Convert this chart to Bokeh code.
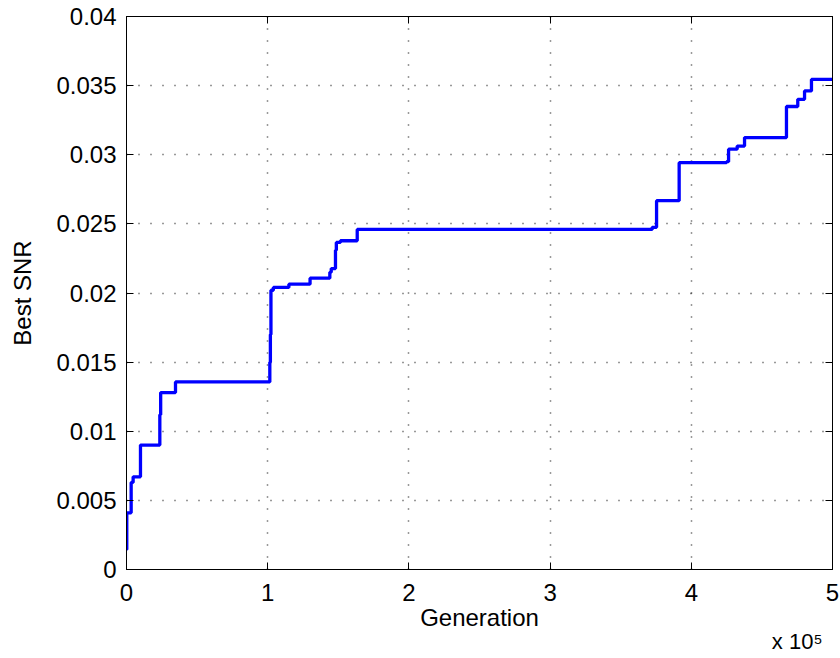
from bokeh.plotting import figure
from bokeh.models import Range1d, FixedTicker, LinearAxis, Label
from bokeh.embed import file_html
from bokeh.resources import INLINE

# Step points: generation at which each best SNR value begins
generation = [0, 200, 3300, 4700, 9900, 23600, 24200, 34700, 101500, 101900,
              102300, 104000, 115000, 130000, 144000, 145000, 148000, 148600,
              151500, 163400, 372300, 375400, 391400, 425000, 426400, 432500,
              437700, 467400, 475400, 480200, 485100, 500000]
best_snr = [0.00145, 0.0041, 0.0063, 0.0067, 0.0090, 0.0112, 0.0128, 0.01357,
            0.0150, 0.0170, 0.0202, 0.0204, 0.02064, 0.02107, 0.0215, 0.02177,
            0.0231, 0.02366, 0.02378, 0.0246, 0.02475, 0.02668, 0.02943,
            0.0295, 0.0304, 0.03063, 0.03124, 0.03349, 0.03401, 0.03462,
            0.03545, 0.03545]

x_ticks = [0, 100000, 200000, 300000, 400000, 500000]
x_tick_labels = ["0", "1", "2", "3", "4", "5"]
y_ticks = [0, 0.005, 0.01, 0.015, 0.02, 0.025, 0.03, 0.035, 0.04]
y_tick_labels = ["0", "0.005", "0.01", "0.015", "0.02", "0.025", "0.03", "0.035", "0.04"]
x_scale_text = "x 10\u2075"

FONT = "Liberation Sans"
FS = "24px"

p = figure(width=840, height=658, output_backend="svg", toolbar_location=None,
           x_range=Range1d(0, 500000), y_range=Range1d(0, 0.04),
           min_border_left=126, min_border_right=8, min_border_top=16,
           min_border_bottom=89)
p.background_fill_color = "white"
p.border_fill_color = "white"
p.outline_line_color = "black"
p.outline_line_width = 1

p.step(generation, best_snr, mode="after", line_color="#0000ff", line_width=3.3)

for ax, ticks, labels in ((p.xaxis[0], x_ticks, x_tick_labels), (p.yaxis[0], y_ticks, y_tick_labels)):
    ax.ticker = FixedTicker(ticks=ticks)
    ax.major_label_overrides = {t: l for t, l in zip(ticks, labels)}
    ax.minor_tick_line_color = None
    ax.major_tick_in = 7
    ax.major_tick_out = 0
    ax.axis_line_color = "black"
    ax.major_tick_line_color = "black"
    ax.major_label_text_font = FONT
    ax.major_label_text_font_size = FS
    ax.major_label_text_color = "black"
    ax.axis_label_text_font = FONT
    ax.axis_label_text_font_size = FS
    ax.axis_label_text_font_style = "normal"
    ax.axis_label_text_color = "black"

p.xaxis[0].axis_label = "Generation"
p.yaxis[0].axis_label = "Best SNR"
p.xaxis[0].major_label_standoff = 14
p.yaxis[0].major_label_standoff = 10
p.xaxis[0].axis_label_standoff = 0
p.yaxis[0].axis_label_standoff = 17

for loc, ticks in (("above", x_ticks), ("right", y_ticks)):
    ax = LinearAxis(ticker=FixedTicker(ticks=ticks))
    ax.major_label_overrides = {t: "" for t in ticks}
    ax.major_label_text_font_size = "1px"
    ax.major_label_standoff = 0
    ax.minor_tick_line_color = None
    ax.major_tick_in = 7
    ax.major_tick_out = 0
    ax.axis_line_color = "black"
    ax.major_tick_line_color = "black"
    p.add_layout(ax, loc)

p.xgrid.ticker = FixedTicker(ticks=x_ticks)
p.ygrid.ticker = FixedTicker(ticks=y_ticks)
for g in (p.xgrid[0], p.ygrid[0]):
    g.grid_line_color = "black"
    g.grid_line_dash = "1 11"
    g.grid_line_width = 1.5
    g.grid_line_alpha = 0.8

p.add_layout(Label(x=696, y=17, x_units="screen", y_units="screen", text=x_scale_text,
                   text_align="right", text_baseline="alphabetic",
                   text_font=FONT, text_font_size="22px", text_color="black"), "below")

open("out.html", "w").write(file_html(p, INLINE))
